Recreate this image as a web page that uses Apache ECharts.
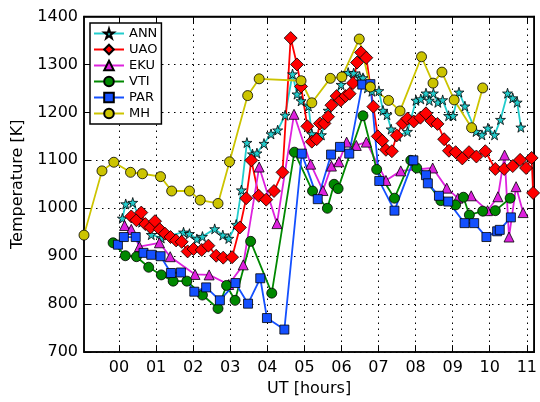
<!DOCTYPE html>
<html lang="en">
<head>
<meta charset="UTF-8">
<title>Temperature</title>
<script src="https://cdn.jsdelivr.net/npm/echarts@6/dist/echarts.min.js"></script>
<style>
    body { margin: 0; background: #fff; }
    #chart { width: 540px; height: 402px; }
</style>
</head>
<body>
<div id="chart"></div>
<script>
    var hourTicks = [0, 1, 2, 3, 4, 5, 6, 7, 8, 9, 10, 11];

    var annHour = [0.09,0.18,0.37,0.61,0.87,1.14,1.74,1.90,2.10,2.25,2.58,2.80,2.96,3.16,3.30,3.45,3.60,3.72,3.91,4.10,4.28,4.48,4.68,4.80,4.91,5.11,5.20,5.46,5.64,5.99,6.02,6.18,6.33,6.49,6.58,6.70,6.82,7.01,7.12,7.23,7.34,7.52,7.78,8.01,8.14,8.28,8.37,8.48,8.60,8.73,8.89,9.01,9.17,9.33,9.63,9.79,9.95,10.13,10.29,10.48,10.62,10.74,10.84];
    var annTemp = [979,1009,1012,971,945,938,950,947,936,941,957,944,937,966,1038,1137,1113,1115,1135,1155,1163,1194,1280,1238,1224,1213,1155,1153,1204,1258,1275,1283,1282,1275,1272,1251,1244,1245,1204,1195,1165,1150,1160,1225,1228,1240,1225,1240,1221,1226,1193,1193,1242,1213,1160,1153,1167,1153,1185,1240,1230,1221,1169];

    var uaoHour = [0.33,0.47,0.60,0.71,0.85,0.97,1.10,1.24,1.39,1.54,1.69,1.85,2.01,2.23,2.41,2.62,2.81,3.05,3.26,3.43,3.57,3.77,3.97,4.18,4.41,4.63,4.80,4.91,5.08,5.20,5.33,5.42,5.54,5.64,5.73,5.87,5.98,6.11,6.22,6.31,6.42,6.53,6.67,6.86,6.98,7.10,7.20,7.36,7.49,7.65,7.78,7.95,8.13,8.28,8.43,8.59,8.77,8.90,9.08,9.26,9.44,9.64,9.88,10.15,10.39,10.62,10.82,10.98,11.13,11.17];
    var uaoTemp = [983,975,991,967,960,973,956,947,940,933,930,910,915,913,922,901,897,898,960,1021,1100,1026,1018,1036,1075,1355,1300,1254,1171,1139,1144,1177,1177,1191,1215,1234,1225,1234,1239,1261,1304,1325,1314,1212,1150,1141,1122,1119,1152,1177,1187,1181,1189,1198,1182,1176,1144,1120,1117,1104,1117,1108,1119,1082,1082,1088,1101,1084,1105,1032];

    var ekuHour = [0.15,0.33,0.55,1.09,1.38,2.05,2.43,2.96,3.35,3.78,4.26,4.72,5.17,5.50,5.73,5.93,6.14,6.40,6.67,7.20,7.60,8.46,8.84,9.14,9.50,9.94,10.22,10.40,10.52,10.71,10.90];
    var ekuTemp = [964,956,920,928,899,862,861,841,882,1086,968,1196,1092,1037,1088,1097,1138,1131,1138,1058,1078,1084,1042,1021,1026,995,1024,1111,940,1045,991];

    var vtiHour = [-0.16,0.17,0.47,0.80,1.14,1.46,1.83,2.25,2.67,2.90,3.13,3.55,4.12,4.73,5.22,5.62,5.80,5.91,6.58,6.95,7.43,7.87,8.03,8.68,9.08,9.29,9.45,9.81,10.15,10.55];
    var vtiTemp = [928,901,899,877,861,848,848,819,791,839,808,931,823,1117,1036,1000,1050,1041,1193,1081,1021,1100,1084,1016,1007,1023,986,994,995,1021];

    var parHour = [-0.03,0.13,0.45,0.66,0.87,1.12,1.40,1.67,2.03,2.35,2.72,3.14,3.48,3.81,3.99,4.46,4.93,5.36,5.72,5.96,6.21,6.56,6.78,7.02,7.43,7.94,8.28,8.33,8.63,8.88,9.32,9.58,9.91,10.20,10.27,10.57];
    var parTemp = [924,940,940,907,903,900,865,866,826,835,808,844,801,854,771,747,1114,1019,1112,1128,1114,1258,1259,1057,995,1100,1069,1052,1026,1014,969,969,940,952,955,981];

    var mhHour = [-0.945,-0.46,-0.14,0.31,0.63,1.12,1.42,1.90,2.19,2.67,2.98,3.47,3.78,4.91,5.20,5.70,6.01,6.48,6.78,7.27,7.58,8.16,8.47,8.71,9.04,9.51,9.81];
    var mhTemp = [944,1078,1096,1075,1072,1066,1036,1036,1017,1010,1097,1235,1270,1266,1220,1271,1274,1353,1253,1225,1203,1316,1261,1284,1226,1168,1251];

    var font = 'DejaVu Sans';
    var starPath = 'path://M50,0 L61,35 L98,35 L68,57 L79,91 L50,70 L21,91 L32,57 L2,35 L39,35 Z';

    function pairs(h, t) {
        return h.map(function (v, i) { return [v, t[i]]; });
    }

    function station(name, h, t, color, symbol, size) {
        return {
            name: name,
            type: 'line',
            data: pairs(h, t),
            symbol: symbol,
            symbolSize: size,
            showAllSymbol: true,
            lineStyle: { color: color, width: 1.8 },
            itemStyle: { color: color, borderColor: '#000', borderWidth: 0.8 }
        };
    }

    var chart = echarts.init(document.getElementById('chart'));

    var gridLine = { show: true, lineStyle: { color: '#000', type: [1.5, 4.5], width: 1 } };
    var frameLine = { show: true, onZero: false, lineStyle: { color: '#000', width: 1.5 } };

    chart.setOption({
        animation: false,
        textStyle: { fontFamily: font },
        grid: { left: 84, right: 2, top: 16.5, bottom: 45.3, show: true, borderColor: '#000', borderWidth: 1.5 },
        legend: {
            orient: 'vertical',
            left: 90,
            top: 23,
            padding: [4, 4, 4, 3],
            itemGap: 3,
            itemWidth: 30,
            itemHeight: 12,
            backgroundColor: '#fff',
            borderColor: '#000',
            borderWidth: 1.5,
            textStyle: { fontFamily: font, fontSize: 13, color: '#000' }
        },
        xAxis: [{
            type: 'value',
            min: -0.945,
            max: 11.2,
            name: 'UT [hours]',
            nameLocation: 'middle',
            nameGap: 28,
            nameTextStyle: { fontFamily: font, fontSize: 16, color: '#000' },
            axisLine: frameLine,
            axisTick: { inside: true, length: 7, customValues: hourTicks, lineStyle: { color: '#000' } },
            axisLabel: {
                customValues: hourTicks, margin: 8, fontSize: 16, color: '#000',
                formatter: function (v) { return (v < 10 ? '0' : '') + v; }
            },
            splitLine: gridLine
        }, {
            type: 'value',
            position: 'top',
            min: -0.945,
            max: 11.2,
            axisLine: frameLine,
            axisTick: { inside: true, length: 7, customValues: hourTicks, lineStyle: { color: '#000' } },
            axisLabel: { show: false },
            splitLine: { show: false }
        }],
        yAxis: [{
            type: 'value',
            min: 700,
            max: 1400,
            interval: 100,
            name: 'Temperature [K]',
            nameLocation: 'middle',
            nameGap: 58,
            nameTextStyle: { fontFamily: font, fontSize: 16, color: '#000' },
            axisLine: frameLine,
            axisTick: { inside: true, length: 7, lineStyle: { color: '#000' } },
            axisLabel: {
                margin: 6, fontSize: 16, color: '#000',
                formatter: function (v) { return String(v); }
            },
            splitLine: gridLine
        }, {
            type: 'value',
            position: 'right',
            min: 700,
            max: 1400,
            interval: 100,
            axisLine: frameLine,
            axisTick: { show: true, inside: true, length: 7, lineStyle: { color: '#000' } },
            axisLabel: { show: false },
            splitLine: { show: false }
        }],
        series: [
            station('ANN', annHour, annTemp, '#22cccc', starPath, 10),
            station('UAO', uaoHour, uaoTemp, '#ff0000', 'diamond', 13),
            station('EKU', ekuHour, ekuTemp, '#dd22dd', 'triangle', 10),
            station('VTI', vtiHour, vtiTemp, '#008800', 'circle', 10),
            station('PAR', parHour, parTemp, '#1450ff', 'rect', 9),
            station('MH', mhHour, mhTemp, '#ccc400', 'circle', 10)
        ]
    });
</script>
</body>
</html>
